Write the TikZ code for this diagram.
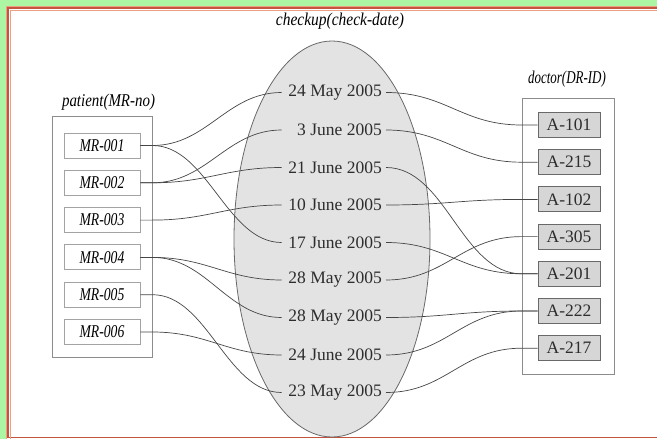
\documentclass[tikz,border=0pt]{standalone}
\usepackage{fontspec}
\newfontfamily\tms{Liberation Serif}
\usetikzlibrary{calc}
\definecolor{bggreen}{RGB}{172,245,162}
\definecolor{framered}{RGB}{196,84,62}
\definecolor{framesalmon}{RGB}{236,160,130}
\definecolor{connc}{RGB}{70,70,70}
\definecolor{ellfill}{RGB}{227,227,227}
\definecolor{ellline}{RGB}{105,105,105}
\definecolor{boxline}{RGB}{140,140,140}
\definecolor{afill}{RGB}{214,214,214}
\definecolor{aline}{RGB}{105,105,105}
\definecolor{datetext}{RGB}{45,45,45}
\newcommand\itl[2]{\scalebox{#1}[1]{\tms\itshape\fontsize{18}{20}\selectfont #2}}
\newcommand\dt[1]{\makebox[96pt][r]{#1}}
\tikzset{
  conn/.style={draw=connc, line width=0.7pt},
  container/.style={draw=boxline, line width=0.8pt, inner sep=0pt},
  mrbox/.style={draw=boxline!80, fill=white, line width=0.9pt, minimum width=76pt, minimum height=25pt, inner sep=0pt},
  abox/.style={draw=aline, fill=afill, line width=0.9pt, minimum width=62pt, minimum height=25pt, inner sep=0pt, text=datetext, font=\tms\fontsize{17.5}{19}\selectfont},
  datenode/.style={anchor=east, inner xsep=4pt, inner ysep=2pt, text=datetext, font=\tms\fontsize{17.5}{19}\selectfont},
  title/.style={anchor=base, inner sep=0pt}
}
\newcommand\lconn[2]{\draw[conn] (#1.east) -- ++(12,0) .. controls +(55,0) and +(-55,0) .. (#2.west);}
\newcommand\rconn[2]{\draw[conn] (#1.east) .. controls +(60,0) and +(-60,0) .. ($(#2.west)+(-16,0)$) -- (#2.west);}
\begin{document}
\begin{tikzpicture}[x=1pt,y=-1pt]
\useasboundingbox (0,0) rectangle (657,439);
\begin{scope}
\clip (0,0) rectangle (657,439);
\fill[white] (-10,-10) rectangle (700,460);
\fill[bggreen] (-10,-10) rectangle (700,6);
\fill[bggreen] (-10,-10) rectangle (6,460);
\draw[framesalmon, line width=1pt] (6.5,6.5) rectangle (700,460);
\draw[framered, line width=1.3pt] (8,8) rectangle (700,437.8);
\draw[framesalmon, line width=1pt] (10.3,10.3) rectangle (700,460);
\end{scope}

% ellipse
\draw[fill=ellfill, draw=ellline, line width=0.8pt] (332,239) ellipse [x radius=98pt, y radius=198pt];

% titles
\node[title] (tc) at (340,26) {\itl{0.86}{checkup(check-date)}};
\node[title] (tp) at (108.5,106) {\itl{0.83}{patient(MR-no)}};
\node[title] (td) at (567,83) {\itl{0.72}{doctor(DR-ID)}};

% containers
\draw[container] (52,116) rectangle (152,357);
\draw[container] (522,98) rectangle (614,374);

% patient boxes
\node[mrbox] (p1) at (102,145.5) {\itl{0.76}{MR-001}};
\node[mrbox] (p2) at (102,182.8) {\itl{0.76}{MR-002}};
\node[mrbox] (p3) at (102,220.1) {\itl{0.76}{MR-003}};
\node[mrbox] (p4) at (102,257.4) {\itl{0.76}{MR-004}};
\node[mrbox] (p5) at (102,294.7) {\itl{0.76}{MR-005}};
\node[mrbox] (p6) at (102,332.0) {\itl{0.76}{MR-006}};

% dates
\node[datenode] (d1) at (386,92.5) {\dt{24 May 2005}};
\node[datenode] (d2) at (386,130) {\dt{3 June 2005}};
\node[datenode] (d3) at (386,167.5) {\dt{21 June 2005}};
\node[datenode] (d4) at (386,205) {\dt{10 June 2005}};
\node[datenode] (d5) at (386,242.5) {\dt{17 June 2005}};
\node[datenode] (d6) at (386,280) {\dt{28 May 2005}};
\node[datenode] (d7) at (386,317.5) {\dt{28 May 2005}};
\node[datenode] (d8) at (386,355) {\dt{24 June 2005}};
\node[datenode] (d9) at (386,392.5) {\dt{23 May 2005}};

% doctor boxes
\node[abox] (a1) at (569,125) {A-101};
\node[abox] (a2) at (569,162.2) {A-215};
\node[abox] (a3) at (569,199.4) {A-102};
\node[abox] (a4) at (569,236.6) {A-305};
\node[abox] (a5) at (569,273.8) {A-201};
\node[abox] (a6) at (569,311) {A-222};
\node[abox] (a7) at (569,348.2) {A-217};

% patient -> checkup
\lconn{p1}{d1}
\lconn{p1}{d5}
\lconn{p2}{d2}
\lconn{p2}{d3}
\lconn{p3}{d4}
\lconn{p4}{d6}
\lconn{p4}{d7}
\lconn{p5}{d9}
\lconn{p6}{d8}

% checkup -> doctor
\rconn{d1}{a1}
\rconn{d2}{a2}
\rconn{d3}{a5}
\rconn{d4}{a3}
\rconn{d5}{a5}
\rconn{d6}{a4}
\rconn{d7}{a6}
\rconn{d8}{a6}
\rconn{d9}{a7}
\end{tikzpicture}
\end{document}
